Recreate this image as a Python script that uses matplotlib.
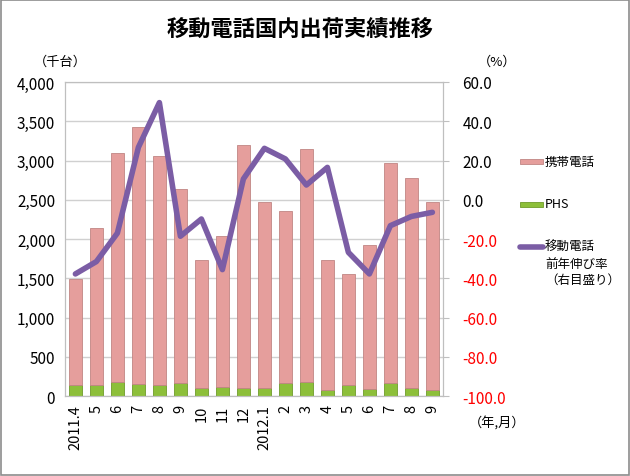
import matplotlib
matplotlib.use("Agg")
import matplotlib.pyplot as plt
import numpy as np
from matplotlib.patches import Rectangle
from matplotlib.lines import Line2D

plt.rcParams['font.family'] = ['Noto Sans CJK JP', 'DejaVu Sans']

months = ["2011.4", "5", "6", "7", "8", "9", "10", "11", "12", "2012.1",
          "2", "3", "4", "5", "6", "7", "8", "9"]
total = [1490, 2140, 3100, 3425, 3055, 2635, 1735, 2040, 3200, 2465,
         2360, 3145, 1735, 1555, 1920, 2965, 2775, 2470]
phs = [140, 140, 180, 155, 140, 160, 100, 115, 100, 100,
       165, 180, 80, 140, 90, 160, 100, 80]
keitai = [t - p for t, p in zip(total, phs)]
growth = [-37.8, -31.5, -17.0, 26.7, 49.5, -18.6, -9.8, -35.6, 10.6, 26.2,
          20.8, 7.5, 16.5, -26.8, -37.8, -13.2, -8.5, -6.4]
legend_labels = ["携帯電話", "PHS", "移動電話\n前年伸び率\n（右目盛り）"]

W, H = 630, 477
fig = plt.figure(figsize=(W / 100, H / 100), dpi=100)
fig.patches.append(Rectangle((0.002, 0.002), 0.996, 0.996, transform=fig.transFigure,
                             fill=False, edgecolor='#8c8c8c', linewidth=1.2))
ax = fig.add_axes([0.103, 0.1677, 0.600, 0.6583])
x = np.arange(len(months))
pink = '#E59E9C'
pink_edge = '#C08684'
green = '#8DBF3A'
green_edge = '#6E9A2A'
purple = '#7B5DA5'
ax.bar(x, phs, width=0.65, color=green, edgecolor=green_edge, linewidth=0.6, zorder=2)
ax.bar(x, keitai, width=0.65, bottom=phs, color=pink, edgecolor=pink_edge, linewidth=0.6, zorder=2)
ax.set_xlim(-0.5, len(months) - 0.5)
ax.set_ylim(0, 4000)
ax.set_yticks(np.arange(0, 4001, 500))
ax.set_yticklabels([f"{v:,}" for v in range(0, 4001, 500)], fontsize=11)
ax.set_xticks(x)
ax.set_xticklabels(months, rotation=90, fontsize=10.5)
ax.tick_params(axis='y', length=0, pad=7)
ax.tick_params(axis='x', length=0, pad=6)
ax.grid(axis='y', color='#d0d0d0', linewidth=1, zorder=0)
ax.set_axisbelow(True)
for s in ax.spines.values():
    s.set_color('#bfbfbf')

ax2 = ax.twinx()
ax2.plot(x, growth, color=purple, linewidth=4, solid_joinstyle='round',
         solid_capstyle='round', zorder=3)
ax2.set_ylim(-100, 60)
rt = np.arange(-100, 61, 20)
ax2.set_yticks(rt)
ax2.set_yticklabels([f"{v:.1f}" for v in rt], fontsize=11)
for lab, v in zip(ax2.get_yticklabels(), rt):
    lab.set_color('red' if v < 0 else 'black')
ax2.tick_params(axis='y', length=4, color='#bfbfbf', pad=10)
for s in ax2.spines.values():
    s.set_color('#bfbfbf')

fig.text(0.477, 1 - 30 / H, "移動電話国内出荷実績推移", ha='center', va='center',
         fontsize=16, fontweight='bold')
fig.text(60 / W, 1 - 62 / H, "（千台）", ha='center', va='center', fontsize=9.5)
fig.text(497 / W, 1 - 62 / H, "（%）", ha='center', va='center', fontsize=9.5)
fig.text(497 / W, 1 - 423 / H, "（年,月）", ha='center', va='center', fontsize=9.5)

# manual legend
hx0, hx1 = 520 / W, 543 / W
tx = 545 / W
ys = [162, 205, 248]
fig.patches.append(Rectangle((hx0, 1 - 165 / H), hx1 - hx0, 5 / H, transform=fig.transFigure,
                             facecolor=pink, edgecolor=pink_edge, linewidth=0.6))
fig.patches.append(Rectangle((hx0, 1 - 208 / H), hx1 - hx0, 5 / H, transform=fig.transFigure,
                             facecolor=green, edgecolor=green_edge, linewidth=0.6))
fig.add_artist(Line2D([hx0, hx1], [1 - 248 / H, 1 - 248 / H], transform=fig.transFigure,
                      color=purple, linewidth=4, solid_capstyle='round'))
fig.text(tx, 1 - ys[0] / H, legend_labels[0], ha='left', va='center', fontsize=9)
fig.text(tx, 1 - ys[1] / H, legend_labels[1], ha='left', va='center', fontsize=9)
fig.text(tx, 1 - 241 / H, legend_labels[2], ha='left', va='top', fontsize=9, linespacing=1.35)

fig.savefig("out.png", dpi=100)
